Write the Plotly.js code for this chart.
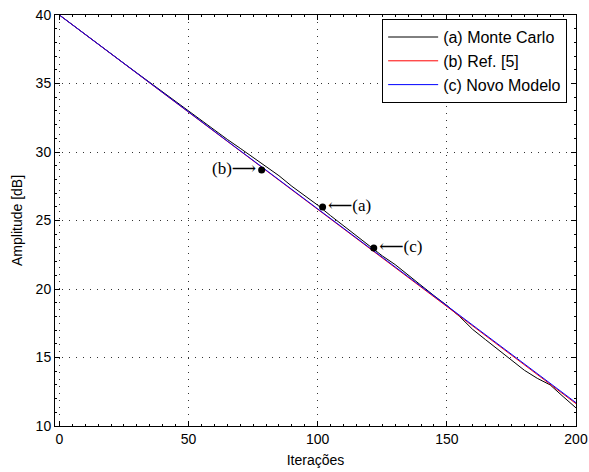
<!DOCTYPE html>
<html><head><meta charset="utf-8">
<script src="https://cdn.plot.ly/plotly-3.0.1.min.js"></script>
<style>body{margin:0;background:#fff}#c{width:589px;height:472px}</style>
</head><body><div id="c"></div>
<script>
const iters = [0,5,10,15,20,25,30,35,40,45,50,55,60,65,70,75,80,85,90,95,100,105,110,115,120,125,130,135,140,145,150,155,160,165,170,175,180,185,190,195,200];
const novoModelo = [40.00,39.29,38.58,37.88,37.17,36.46,35.75,35.05,34.34,33.63,32.93,32.22,31.51,30.80,30.10,29.39,28.68,27.97,27.27,26.56,25.85,25.15,24.44,23.73,23.02,22.32,21.61,20.90,20.19,19.49,18.78,18.07,17.36,16.66,15.95,15.24,14.54,13.83,13.12,12.41,11.70];
const ref5 = [40.00,39.29,38.58,37.87,37.16,36.45,35.74,35.04,34.33,33.62,32.91,32.20,31.49,30.78,30.07,29.36,28.65,27.94,27.24,26.53,25.82,25.11,24.40,23.69,22.98,22.27,21.56,20.85,20.15,19.44,18.73,18.02,17.31,16.60,15.89,15.18,14.47,13.76,13.05,12.34,11.63];
const monteCarlo = [40.00,39.28,38.57,37.87,37.17,36.47,35.77,35.07,34.36,33.66,32.96,32.26,31.58,30.92,30.27,29.62,28.95,28.27,27.50,26.84,26.12,25.35,24.60,23.87,23.10,22.42,21.78,21.00,20.27,19.52,18.80,17.98,17.05,16.30,15.55,14.80,14.07,13.48,13.00,12.15,11.32];
const markX = [78.3, 101.9, 121.7];
const markY = [28.69, 25.99, 22.99];
const markText = ['(b)\u27F6', '\u27F5(a)', '\u27F5(c)'];
const markPos = ['middle left', 'middle right', 'middle right'];
const xTicks = [0,50,100,150,200];
const yTicks = [10,15,20,25,30,35,40];

const traces = [
  {x: iters, y: monteCarlo, mode:'lines', name:'(a) Monte Carlo', line:{color:'#000000', width:1}},
  {x: iters, y: ref5, mode:'lines', name:'(b) Ref. [5]', line:{color:'#ff0000', width:1}},
  {x: iters, y: novoModelo, mode:'lines', name:'(c) Novo Modelo', line:{color:'#0000ff', width:1}},
  {x: markX, y: markY, mode:'markers+text', showlegend:false, text: markText, textposition: markPos,
   marker:{color:'#000', size:7}, textfont:{family:'Liberation Serif, DejaVu Serif, serif', size:17, color:'#000'}, cliponaxis:false}
];
const axBase = {
  showline:true, linecolor:'#000', linewidth:1, mirror:'ticks', ticks:'inside', ticklen:5, tickcolor:'#000',
  showgrid:true, gridcolor:'#333', griddash:'1px,6px', gridwidth:1, zeroline:false,
  tickfont:{family:'Liberation Sans, Arial, sans-serif', size:14, color:'#000'}
};
const layout = {
  width:589, height:472, margin:{l:55, r:13, t:15, b:46},
  paper_bgcolor:'#fff', plot_bgcolor:'#fff', showlegend:true,
  xaxis: Object.assign({}, axBase, {range:[-1.7,200], tickvals:xTicks, ticktext:xTicks.map(String),
    minor:{ticks:'inside', ticklen:2, dtick:5, tickcolor:'#000', showgrid:false},
    title:{text:'Iterações', font:{family:'Liberation Sans, Arial, sans-serif', size:14, color:'#000'}, standoff:9}}),
  yaxis: Object.assign({}, axBase, {range:[10,40], tickvals:yTicks, ticktext:yTicks.map(String),
    minor:{ticks:'inside', ticklen:2, dtick:1, tickcolor:'#000', showgrid:false},
    title:{text:'Amplitude [dB]', font:{family:'Liberation Sans, Arial, sans-serif', size:14, color:'#000'}, standoff:9}}),
  legend:{x:0.983, xanchor:'right', y:0.99, yanchor:'top', bgcolor:'#fff', bordercolor:'#000', borderwidth:1,
    font:{family:'Liberation Sans, Arial, sans-serif', size:16, color:'#000'}, tracegroupgap:0, itemwidth:50}
};
Plotly.newPlot('c', traces, layout, {displayModeBar:false, staticPlot:true});
</script></body></html>
